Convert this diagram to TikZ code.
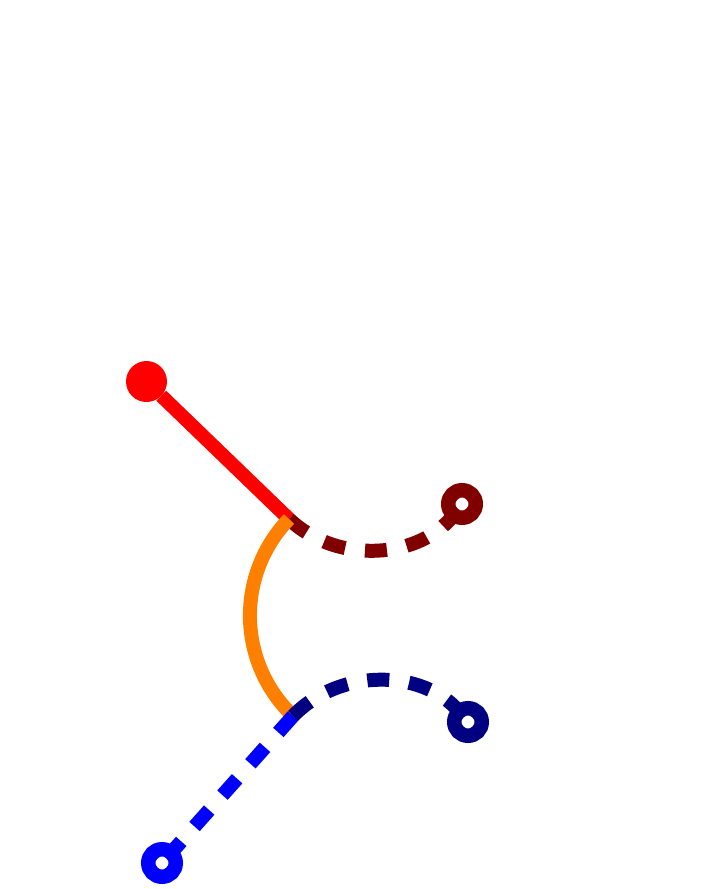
\documentclass[tikz,border=0pt]{standalone}
\definecolor{cmaroon}{RGB}{128,0,0}
\definecolor{cnavy}{RGB}{0,0,128}
\definecolor{corange}{RGB}{255,128,0}
\definecolor{cred}{RGB}{255,0,0}
\definecolor{cblue}{RGB}{0,0,255}
\begin{document}
\begin{tikzpicture}[x=1pt,y=-1pt,
  prop/.style={line width=14pt},
  dashprop/.style={line width=14pt, dash pattern=on 22pt off 20pt},
  ringend/.style={circle, draw=#1, fill=white, line width=14.5pt, minimum size=27.5pt, inner sep=0pt, outer sep=0pt},
  dotend/.style={circle, fill=#1, minimum size=41pt, inner sep=0pt, outer sep=0pt}]
\useasboundingbox (0,0) rectangle (702,889);
\coordinate (A) at (289,519);
\coordinate (B) at (293,716);
\node[dotend=cred] (r) at (146.5,381.5) {};
\node[ringend=cmaroon] (m) at (462,504) {};
\node[ringend=cnavy] (n) at (468,722) {};
\node[ringend=cblue] (b) at (162,863) {};
\draw[prop, cred] (r) -- (A);
\draw[dashprop, cmaroon] (A) .. controls (338.4,565.7) and (420.7,558.1) .. (m);
\draw[prop, corange] (A) .. controls (235.4,574.5) and (237.2,662.7) .. (B);
\draw[dashprop, cblue] (B) -- (b);
\draw[dashprop, cnavy] (B) .. controls (340.9,666.9) and (423.5,669.7) .. (n);
\end{tikzpicture}
\end{document}
